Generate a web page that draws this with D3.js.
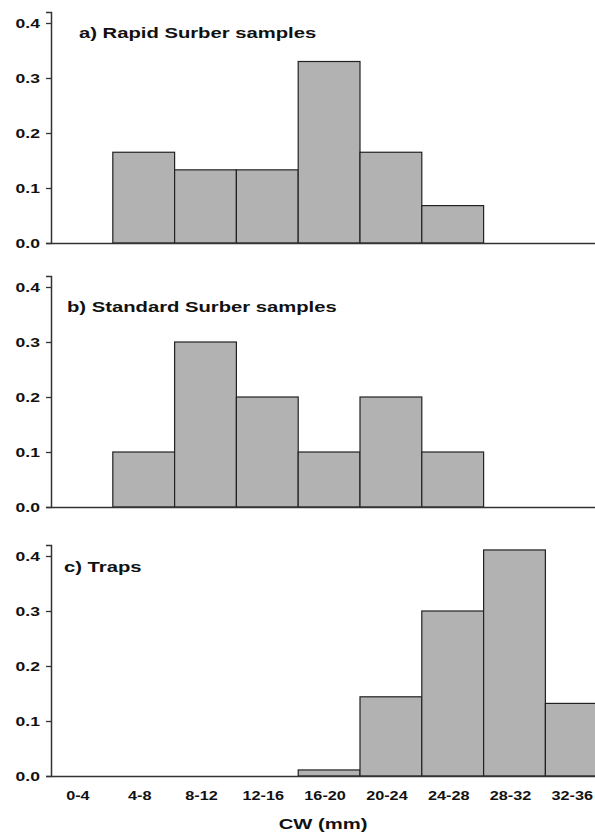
<!DOCTYPE html>
<html>
<head>
<meta charset="utf-8">
<script src="https://cdn.jsdelivr.net/npm/d3@7"></script>
<style>
  body { margin: 0; background: #fff; }
  svg { display: block; font-family: "Liberation Sans", Arial, sans-serif; }
</style>
</head>
<body>
<svg id="mychart"></svg>
<script>
const width = 595
const height = 836
const margin = ({left: 51, right: 0})
// the original figure is stretched sideways, so text is widened to match
const sx = 1.35

// size classes, proportion per class
const bins = ["0-4", "4-8", "8-12", "12-16", "16-20", "20-24", "24-28", "28-32", "32-36"]
const rapid = [0, 0.165, 0.133, 0.133, 0.33, 0.165, 0.068, 0, 0]
const standard = [0, 0.1, 0.3, 0.2, 0.1, 0.2, 0.1, 0, 0]
const traps = [0, 0, 0, 0, 0.011, 0.144, 0.3, 0.411, 0.132]
const yTicks = [0, 0.1, 0.2, 0.3, 0.4]
const titles = ["a) Rapid Surber samples", "b) Standard Surber samples", "c) Traps"]
const xTitle = "CW (mm)"

const panels = [
  {values: rapid, title: titles[0], bottom: 243, tx: 79, ty: 38},
  {values: standard, title: titles[1], bottom: 507, tx: 67, ty: 312},
  {values: traps, title: titles[2], bottom: 776, tx: 64, ty: 572, labels: true}
]
const panelH = 231

// the last class runs past the right edge, as in the original
const x = d3.scaleBand()
    .domain(bins)
    .range([margin.left, margin.left + bins.length * 61.8])
    .padding(0)

const svg = d3.select('#mychart').attr('width', width).attr('height', height)

const wideText = (sel, px, py, size, str, anchor) => sel.append("text")
    .attr("transform", `translate(${px},${py}) scale(${sx},1)`)
    .attr("text-anchor", anchor || "start")
    .attr("font-size", size)
    .attr("font-weight", "bold")
    .attr("fill", "#111")
    .text(str)

panels.forEach(p => {
  const y = d3.scaleLinear()
      .domain([0, 0.42])
      .range([p.bottom, p.bottom - panelH])

  const g = svg.append("g")

  g.append("g")
    .attr("fill", "#b2b2b2")
    .attr("stroke", "#222")
    .attr("stroke-width", 1.2)
    .selectAll("rect")
    .data(bins.map((b, i) => ({bin: b, value: p.values[i]})).filter(d => d.value > 0))
    .join("rect")
      .attr("x", d => x(d.bin))
      .attr("y", d => y(d.value))
      .attr("width", x.bandwidth())
      .attr("height", d => y(0) - y(d.value))

  const xAxis = g.append("g")
      .attr("transform", `translate(0,${p.bottom})`)
      .call(d3.axisBottom(x).tickSize(0).tickSizeOuter(0).tickPadding(15))
  xAxis.select(".domain").attr("stroke", "#333").attr("stroke-width", 1.5)
  xAxis.selectAll("text")
      .attr("transform", "translate(-4,0) scale(1.25,1)")
      .attr("font-size", 13).attr("font-weight", "bold").attr("fill", "#111")
  if (!p.labels) xAxis.selectAll(".tick").remove()

  const yAxis = g.append("g")
      .attr("transform", `translate(${margin.left},0)`)
      .call(d3.axisLeft(y).tickValues(yTicks).tickFormat(d3.format(".1f")).tickSizeOuter(0).tickSize(5).tickPadding(6))
  yAxis.select(".domain").attr("stroke", "#333").attr("stroke-width", 1.5)
  yAxis.selectAll(".tick line").attr("stroke", "#333").attr("stroke-width", 1.3)
  yAxis.selectAll("text")
      .attr("x", -11 / sx)
      .attr("transform", `scale(${sx},1)`)
      .attr("font-size", 13).attr("font-weight", "bold").attr("fill", "#111")

  wideText(g, p.tx, p.ty, 15, p.title)
})

wideText(svg, (margin.left + width) / 2, 829, 15, xTitle, "middle")
</script>
</body>
</html>
